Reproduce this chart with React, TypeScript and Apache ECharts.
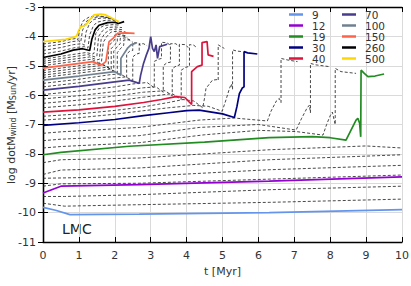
import React, { useEffect, useRef } from "react";
import * as echarts from "echarts";

// ---------- data (t [Myr], log dotM) ----------
const massLabels = ["9", "12", "19", "30", "40", "70", "100", "150", "260", "500"];
const massColors = ["#6495ED", "#9400D3", "#228B22", "#000080", "#DC143C", "#483D8B", "#708090", "#FF6347", "#000000", "#FFD700"];

const track9 = [[0, -9.82], [0.35, -9.92], [0.75, -10.07], [2.68, -10.05], [6.3, -10.0], [10, -9.9]];
const track12 = [[0, -9.33], [0.5, -9.1], [2.68, -9.05], [6.3, -8.93], [10, -8.78]];
const track19 = [[0, -8.03], [0.5, -7.95], [2.4, -7.74], [4.5, -7.6], [6.3, -7.45], [7.5, -7.41], [8.0, -7.45], [8.44, -7.53], [8.58, -7.19], [8.72, -6.85], [8.77, -6.79], [8.82, -6.96], [8.85, -7.42], [8.86, -5.15], [8.95, -5.26], [9.05, -5.37], [9.25, -5.35], [9.5, -5.28]];
const track30 = [[0, -7.03], [1, -6.94], [2, -6.83], [2.8, -6.7], [3.5, -6.6], [4.0, -6.53], [4.35, -6.51], [5.0, -6.64], [5.33, -6.76], [5.4, -6.4], [5.47, -5.95], [5.55, -5.76], [5.6, -5.72], [5.6, -4.52], [5.7, -4.56], [5.97, -4.6]];
const track40 = [[0, -6.58], [1, -6.5], [2, -6.38], [2.8, -6.25], [3.3, -6.15], [3.7, -6.05], [3.95, -6.08], [4.14, -6.32], [4.14, -5.2], [4.3, -5.03], [4.43, -4.98], [4.43, -4.21], [4.57, -4.18], [4.6, -4.63], [4.75, -4.68]];
const track70 = [[0, -5.83], [1, -5.7], [2, -5.55], [2.4, -5.49], [2.68, -5.6], [2.72, -5.32], [2.8, -4.92], [2.88, -4.63], [2.95, -4.41], [3.0, -4.01], [3.05, -4.41], [3.1, -4.52], [3.15, -4.29], [3.19, -4.75], [3.25, -4.35], [3.46, -4.27]];
const track100 = [[0, -5.49], [1, -5.35], [2.0, -5.2], [2.17, -5.32], [2.17, -4.75], [2.35, -4.41], [2.45, -4.29], [2.6, -4.22]];
const track150 = [[0, -5.08], [0.7, -4.97], [1.39, -4.86], [1.6, -4.98], [1.68, -4.93], [1.75, -4.86], [1.84, -4.18], [1.95, -4.07], [2.07, -3.9], [2.3, -3.88], [2.55, -3.9]];
const track260 = [[0, -4.72], [0.5, -4.6], [0.84, -4.47], [1.1, -4.42], [1.3, -4.48], [1.36, -4.1], [1.45, -3.78], [1.56, -3.62], [1.8, -3.53], [2.0, -3.52], [2.1, -3.56], [2.26, -3.5]];
const track500 = [[0, -4.18], [0.63, -4.1], [0.91, -4.01], [0.95, -3.95], [1.0, -3.78], [1.05, -3.68], [1.19, -3.61], [1.33, -3.39], [1.42, -3.27], [1.61, -3.24], [1.75, -3.27], [1.98, -3.42], [2.12, -3.5]];

const highlightTracks = [track9, track12, track19, track30, track40, track70, track100, track150, track260, track500];

// low-mass dashed tracks (full 10 Myr)
const lowA = [[0, -8.3], [0.5, -8.2], [2.68, -8.14], [6.3, -7.86], [9.0, -7.73], [10, -7.8]];
const lowB = [[0, -8.7], [0.5, -8.55], [2.68, -8.48], [6.3, -8.2], [10, -8.03]];
const lowC = [[0, -8.83], [0.5, -8.82], [2.68, -8.77], [6.3, -8.54], [10, -8.39]];
const lowD = [[0, -9.1], [0.5, -9.02], [2.68, -9.0], [6.3, -8.86], [10, -8.72]];
const lowE = [[0, -9.45], [0.6, -9.45], [2.68, -9.39], [6.3, -9.22], [10, -9.1]];
const lowF = [[0, -9.68], [0.6, -9.78], [2.68, -9.73], [6.3, -9.65], [10, -9.54]];

// intermediate / high-mass dashed tracks
const up1 = [[0, -7.8], [0.5, -7.75], [2.68, -7.62], [4.5, -7.35], [6.0, -7.2], [7.05, -7.24], [7.8, -7.36], [7.9, -7.0], [8.0, -6.7], [8.06, -6.58], [8.12, -6.9], [8.14, -7.0], [8.14, -5.09], [8.3, -5.2], [8.72, -5.26]];
const up2 = [[0, -7.55], [0.5, -7.5], [2.68, -7.38], [4.35, -7.1], [6.0, -7.0], [7.05, -7.19], [7.2, -6.8], [7.35, -6.45], [7.42, -6.34], [7.45, -6.6], [7.45, -4.92], [7.6, -4.97], [7.98, -5.03]];
const up3 = [[0, -7.3], [0.5, -7.25], [2.68, -7.1], [4.35, -6.85], [5.33, -6.78], [6.25, -6.88], [6.35, -6.55], [6.5, -6.2], [6.58, -6.11], [6.63, -6.25], [6.63, -4.75], [6.8, -4.8], [7.09, -4.86]];
const up4 = [[0, -6.85], [1, -6.77], [2, -6.65], [2.8, -6.53], [3.5, -6.43], [4.2, -6.35], [4.6, -6.38], [4.99, -6.55], [5.1, -6.15], [5.2, -5.75], [5.25, -5.62], [5.28, -5.8], [5.28, -4.46], [5.4, -4.5], [5.55, -4.52]];
const up5 = [[0, -6.72], [1, -6.64], [2, -6.52], [2.8, -6.4], [3.5, -6.25], [3.9, -6.15], [4.2, -6.2], [4.45, -6.43], [4.5, -6.1], [4.54, -5.77], [4.72, -5.49], [4.86, -5.47], [4.88, -5.5], [4.88, -4.29], [5.05, -4.41]];
const up6 = [[0, -6.43], [1, -6.33], [2, -6.2], [2.8, -6.07], [3.6, -5.95], [3.85, -6.15], [3.85, -5.15], [3.98, -5.05], [4.08, -5.02], [4.08, -4.28], [4.2, -4.3], [4.3, -4.4]];
const up7 = [[0, -6.28], [1, -6.17], [2, -6.03], [2.8, -5.9], [3.4, -5.85], [3.6, -6.02], [3.6, -5.1], [3.72, -5.0], [3.8, -4.98], [3.8, -4.27], [3.95, -4.28], [4.05, -4.38]];
const up8 = [[0, -6.13], [1, -6.02], [2, -5.88], [2.8, -5.75], [3.15, -5.72], [3.35, -5.9], [3.35, -5.0], [3.45, -4.9], [3.55, -4.88], [3.55, -4.25], [3.7, -4.25], [3.8, -4.35]];
const up9 = [[0, -5.98], [1, -5.86], [2, -5.72], [2.5, -5.62], [2.9, -5.57], [3.1, -5.75], [3.1, -4.85], [3.22, -4.78], [3.3, -4.75], [3.3, -4.2], [3.45, -4.22], [3.55, -4.3]];
const up10 = [[0, -5.72], [1, -5.58], [2, -5.42], [2.3, -5.38], [2.5, -5.5], [2.5, -4.7], [2.6, -4.6], [2.68, -4.58], [2.68, -4.25], [2.8, -4.25], [2.9, -4.32]];
const up11 = [[0, -5.6], [1, -5.46], [1.9, -5.3], [2.15, -5.28], [2.33, -5.4], [2.33, -4.6], [2.42, -4.5], [2.5, -4.48], [2.5, -4.22], [2.62, -4.22], [2.72, -4.3]];
const up12 = [[0, -5.4], [1, -5.25], [1.85, -5.12], [2.07, -5.25], [2.07, -4.55], [2.17, -4.4], [2.25, -4.3], [2.25, -4.12], [2.4, -4.12], [2.5, -4.2]];
const up13 = [[0, -5.32], [1, -5.17], [1.78, -5.05], [1.97, -5.18], [1.97, -4.5], [2.07, -4.35], [2.15, -4.25], [2.15, -4.07], [2.3, -4.05], [2.42, -4.12]];
const up14 = [[0, -5.24], [1, -5.08], [1.7, -4.98], [1.9, -5.12], [1.9, -4.42], [2.0, -4.28], [2.07, -4.2], [2.07, -4.0], [2.22, -3.98], [2.35, -4.05]];
const up15 = [[0, -5.16], [1, -5.0], [1.62, -4.92], [1.82, -5.06], [1.82, -4.35], [1.92, -4.2], [2.0, -4.12], [2.0, -3.95], [2.15, -3.93], [2.3, -3.98]];
const up16 = [[0, -5.0], [0.7, -4.88], [1.35, -4.78], [1.55, -4.9], [1.63, -4.85], [1.68, -4.2], [1.78, -4.0], [1.9, -3.85], [2.1, -3.82], [2.3, -3.85]];
const up17 = [[0, -4.92], [0.7, -4.8], [1.3, -4.7], [1.5, -4.8], [1.57, -4.78], [1.62, -4.1], [1.72, -3.9], [1.85, -3.78], [2.05, -3.75], [2.25, -3.78]];
const up18 = [[0, -4.85], [0.7, -4.72], [1.25, -4.62], [1.45, -4.7], [1.5, -4.68], [1.55, -4.0], [1.65, -3.82], [1.78, -3.7], [2.0, -3.68], [2.2, -3.7]];
const up19 = [[0, -4.78], [0.7, -4.64], [1.2, -4.55], [1.38, -4.6], [1.42, -4.58], [1.47, -3.9], [1.57, -3.72], [1.7, -3.63], [1.95, -3.6], [2.15, -3.62]];
const up20 = [[0, -4.6], [0.5, -4.5], [0.9, -4.38], [1.15, -4.35], [1.25, -4.4], [1.3, -3.95], [1.4, -3.65], [1.5, -3.52], [1.75, -3.45], [1.95, -3.45], [2.1, -3.5]];
const up21 = [[0, -4.48], [0.5, -4.38], [0.85, -4.28], [1.08, -4.25], [1.15, -4.3], [1.2, -3.85], [1.3, -3.55], [1.42, -3.42], [1.65, -3.37], [1.9, -3.4], [2.05, -3.45]];
const up22 = [[0, -4.36], [0.5, -4.27], [0.8, -4.18], [1.0, -4.15], [1.05, -4.2], [1.1, -3.8], [1.2, -3.5], [1.35, -3.37], [1.6, -3.33], [1.85, -3.37], [2.0, -3.43]];
const up23 = [[0, -4.26], [0.5, -4.18], [0.77, -4.1], [0.93, -4.07], [0.97, -4.12], [1.02, -3.75], [1.12, -3.47], [1.3, -3.33], [1.55, -3.3], [1.8, -3.35], [1.98, -3.43]];

const dashedTracks = [lowA, lowB, lowC, lowD, lowE, lowF, up1, up2, up3, up4, up5, up6, up7, up8, up9, up10, up11, up12, up13, up14, up15, up16, up17, up18, up19, up20, up21, up22, up23];

const xMin = 0, xMax = 10, xStep = 1;
const yMin = -11, yMax = -3, yStep = 1;

const FONT = "DejaVu Sans";

export default function App() {
  const ref = useRef<HTMLDivElement>(null);
  useEffect(() => {
    if (!ref.current) return;
    const chart = echarts.init(ref.current, null, { renderer: "svg" });

    const dashedSeries = dashedTracks.map((d, i) => ({
      type: "line",
      name: "track" + i,
      data: d,
      symbol: "none",
      showSymbol: false,
      silent: true,
      z: 2,
      lineStyle: { color: "#1a1a1a", width: 0.8, type: [3, 2] },
      itemStyle: { color: "#1a1a1a" },
    }));
    const hlSeries = highlightTracks.map((d, i) => ({
      type: "line",
      name: massLabels[i],
      data: d,
      symbol: "none",
      showSymbol: false,
      silent: true,
      z: 3,
      lineStyle: { color: massColors[i], width: 1.7 },
      itemStyle: { color: massColors[i] },
    }));

    const axisLineStyle = { lineStyle: { color: "#000", width: 1.3 } };
    const tickStyle = { show: true, inside: true, length: 5, lineStyle: { color: "#000", width: 1 } };

    const legendCommon = {
      orient: "vertical",
      top: 9,
      itemWidth: 14,
      itemHeight: 2.5,
      itemGap: 0,
      padding: 0,
      icon: "rect",
      selectedMode: false,
      textStyle: { fontFamily: FONT, fontSize: 10.5, lineHeight: 8, color: "#333", padding: [0, 0, 0, 4] },
    };

    chart.setOption({
      animation: false,
      grid: { left: 43, right: 9, top: 7, bottom: 44, containLabel: false, outerBoundsMode: "none" },
      legend: [
        { ...legendCommon, left: 289, data: massLabels.slice(0, 5) },
        { ...legendCommon, left: 342, data: massLabels.slice(5) },
      ],
      xAxis: [
        {
          type: "value", min: xMin, max: xMax, interval: xStep, position: "bottom",
          axisLine: { show: true, ...axisLineStyle }, axisTick: tickStyle,
          splitLine: { show: true, lineStyle: { color: "#dadada", width: 1 } },
          axisLabel: { fontFamily: FONT, fontSize: 11, color: "#333", margin: 8 },
          name: "t [Myr]", nameLocation: "middle", nameGap: 24,
          nameTextStyle: { fontFamily: FONT, fontSize: 11, color: "#333" },
        },
        {
          type: "value", min: xMin, max: xMax, interval: xStep, position: "top",
          axisLine: { show: true, ...axisLineStyle }, axisTick: tickStyle,
          splitLine: { show: false }, axisLabel: { show: false },
        },
      ],
      yAxis: [
        {
          type: "value", min: yMin, max: yMax, interval: yStep, position: "left",
          axisLine: { show: true, ...axisLineStyle }, axisTick: tickStyle,
          splitLine: { show: true, lineStyle: { color: "#dadada", width: 1 } },
          axisLabel: { fontFamily: FONT, fontSize: 11, color: "#333", margin: 7 },
        },
        {
          type: "value", min: yMin, max: yMax, interval: yStep, position: "right",
          axisLine: { show: true, ...axisLineStyle }, axisTick: tickStyle,
          splitLine: { show: false }, axisLabel: { show: false },
        },
      ],
      graphic: [
        {
          type: "text", left: 62, top: 222,
          style: { text: "LMC", fontFamily: FONT, fontSize: 14, fill: "#222" },
        },
        {
          type: "text", x: 11, y: 125, rotation: Math.PI / 2,
          style: {
            text: "log dotM{s|wind} [M{s|Sun}/yr]",
            fontFamily: FONT, fontSize: 11, fill: "#333",
            align: "center", verticalAlign: "middle",
            rich: { s: { fontFamily: FONT, fontSize: 8, fill: "#333", padding: [4, 0, 0, 0] } },
          },
        },
      ],
      series: [...dashedSeries, ...hlSeries],
    });

    return () => chart.dispose();
  }, []);

  return <div ref={ref} style={{ position: "absolute", left: 0, top: 0, width: 411, height: 286 }} />;
}
